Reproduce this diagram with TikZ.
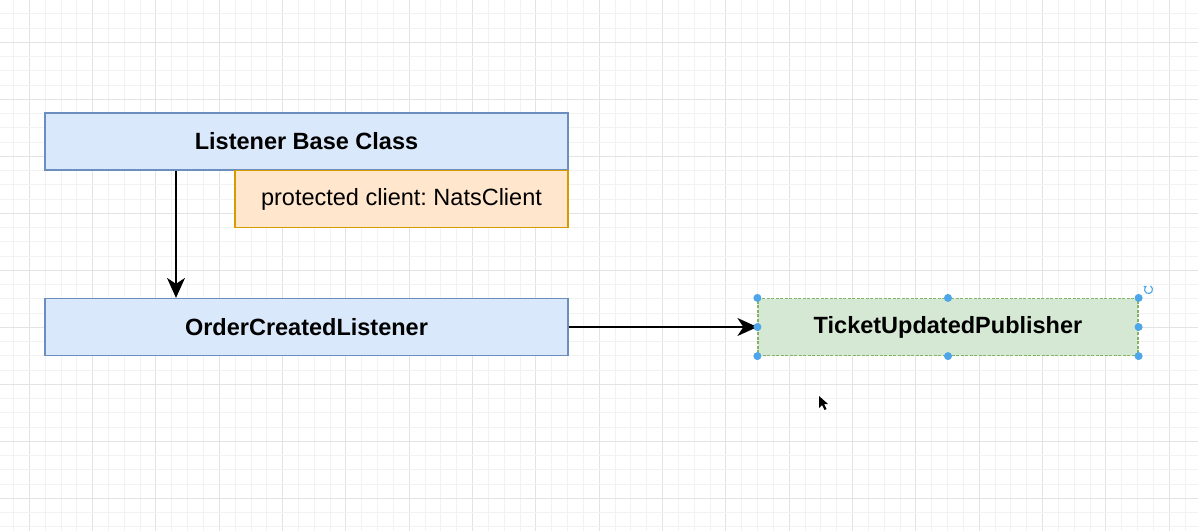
\documentclass[tikz,border=0pt]{standalone}
\usepackage{fontspec}
\setmainfont{Liberation Sans}
\frenchspacing
\usetikzlibrary{arrows.meta}
\definecolor{gridminor}{HTML}{F2F2F2}
\definecolor{gridmajor}{HTML}{E3E3E3}
\definecolor{bluefill}{HTML}{DAE8FC}
\definecolor{bluedraw}{HTML}{6C8EBF}
\definecolor{orangefill}{HTML}{FFE6CC}
\definecolor{orangedraw}{HTML}{D79B00}
\definecolor{greenfill}{HTML}{D5E8D4}
\definecolor{greendraw}{HTML}{82B366}
\definecolor{handle}{HTML}{4DA6EA}
\tikzset{
  box/.style={rectangle, minimum height=57pt, inner sep=0pt, line width=1.2pt, font=\fontsize{23.5}{28}\selectfont},
  bluebox/.style={box, fill=bluefill, draw=bluedraw, font=\fontsize{23.5}{28}\selectfont\bfseries},
  orangebox/.style={box, fill=orangefill, draw=orangedraw},
  greenbox/.style={box, fill=greenfill, draw=greendraw, dash pattern=on 3pt off 1.5pt, font=\fontsize{23.5}{28}\selectfont\bfseries},
  conn/.style={line width=1.5pt, -{Stealth[length=20pt,width=18pt,inset=6pt]}},
  hdl/.style={fill=handle}
}
\begin{document}
\begin{tikzpicture}[x=1pt,y=-1pt]
\useasboundingbox (0,0) rectangle (1198,531);
\fill[white] (0,0) rectangle (1198,531);
% grid
\foreach \k in {-1,...,73}{
  \pgfmathsetmacro{\xx}{29.3+\k*15.83}
  \pgfmathtruncatemacro{\m}{mod(\k+4,4)}
  \ifnum\m=0
    \draw[gridmajor, line width=0.9pt] (\xx,0) -- (\xx,531);
  \else
    \draw[gridminor, line width=0.8pt] (\xx,0) -- (\xx,531);
  \fi
}
\foreach \k in {-2,...,34}{
  \pgfmathsetmacro{\yy}{42.3+\k*14.25}
  \pgfmathtruncatemacro{\m}{mod(\k+4,4)}
  \ifnum\m=0
    \draw[gridmajor, line width=0.9pt] (0,\yy) -- (1198,\yy);
  \else
    \draw[gridminor, line width=0.8pt] (0,\yy) -- (1198,\yy);
  \fi
}
% nodes
\node[bluebox, minimum width=523pt] (lbc) at (306.5,141.5) {Listener Base Class};
\node[orangebox, minimum width=333pt] (prop) at (401.5,199) {protected client: NatsClient};
\node[bluebox, minimum width=523pt] (ocl) at (306.5,327) {OrderCreatedListener};
\node[greenbox, minimum width=380pt] (tup) at (948,327) {TicketUpdatedPublisher};
% connectors
\coordinate (vx) at (176,0);
\draw[conn] (vx |- lbc.south) -- (vx |- ocl.north);
\draw[conn] (ocl.east) -- (tup.west);
% selection handles
\foreach \a in {north west,north,north east,west,east,south west,south,south east}{
  \fill[hdl] (tup.\a) circle (4pt);
}
% rotation handle
\coordinate (rot) at (1148.5,289.5);
\draw[handle, line width=1.1pt, -{Stealth[length=3pt,width=3.5pt]}] ([shift={(60:4pt)}]rot) arc[start angle=60, end angle=-240, radius=4pt];
% mouse cursor
\coordinate (cur) at (819,396);
\fill[black] (cur) -- ++(0,12) -- ++(3,-3) -- ++(2.5,5) -- ++(2,-1) -- ++(-2.5,-5) -- ++(4,0) -- cycle;
\end{tikzpicture}
\end{document}
